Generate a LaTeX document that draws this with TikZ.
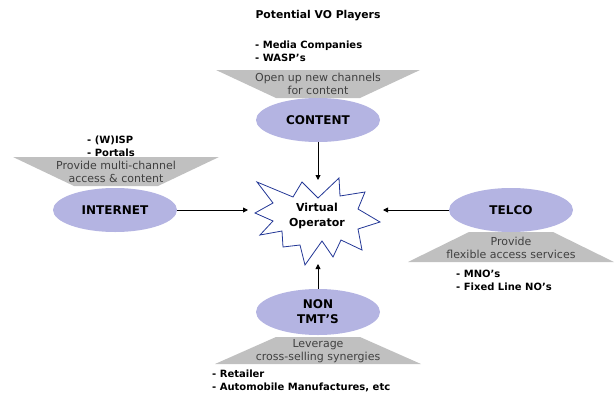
\documentclass[tikz,border=0pt]{standalone}
\usepackage{fontspec}
\setmainfont{DejaVu Sans}
\usetikzlibrary{arrows.meta,shapes.geometric}
\definecolor{lav}{RGB}{180,180,226}
\definecolor{trap}{RGB}{192,192,192}
\definecolor{traptext}{RGB}{64,64,64}
\definecolor{starblue}{RGB}{35,55,150}
\begin{document}
\begin{tikzpicture}[x=1pt,y=-1pt,
  player/.style={ellipse, fill=lav, minimum width=124pt, minimum height=44pt, inner sep=0pt,
    font=\bfseries\fontsize{12}{15}\selectfont, align=center},
  band/.style={fill=trap},
  bandtext/.style={font=\fontsize{11}{12.5}\selectfont, text=traptext, align=center, inner sep=0pt},
  bullets/.style={font=\bfseries\fontsize{10}{13}\selectfont, align=left, anchor=west, inner sep=0pt},
  conn/.style={-{Triangle[length=5pt,width=5pt]}, line width=0.9pt}]
\useasboundingbox (0,0) rectangle (616,394);

% title
\node[font=\bfseries\fontsize{10.8}{12}\selectfont] (title) at (318,16) {Potential VO Players};

% bands
\path[band] (216,70) -- (420,70) -- (360,98) -- (276,98) -- cycle;
\path[band] (13,157) -- (219,157) -- (158,186) -- (74,186) -- cycle;
\path[band] (469,232) -- (553,232) -- (614,262) -- (408,262) -- cycle;
\path[band] (276,337) -- (360,337) -- (421,364) -- (215,364) -- cycle;

\node[bandtext] (bcontent) at (318,84) {Open up new channels\\for content};
\node[bandtext] (binternet) at (116,172) {Provide multi-channel\\access \& content};
\node[bandtext] (btelco) at (511,248) {Provide\\flexible access services};
\node[bandtext] (bnon) at (318,351) {Leverage\\cross-selling synergies};

% bullets
\node[bullets] (lcontent) at (255,51) {- Media Companies\\- WASP's};
\node[bullets] (linternet) at (87,146) {- (W)ISP\\- Portals};
\node[bullets] (ltelco) at (456,280) {- MNO's\\- Fixed Line NO's};
\node[bullets] (lnon) at (212,381) {- Retailer\\- Automobile Manufactures, etc};

% players
\node[player] (content) at (318,120) {CONTENT};
\node[player] (internet) at (115,210) {INTERNET};
\node[player] (telco) at (511,210) {TELCO};
\node[player, minimum height=46pt] (nontmt) at (318,312) {NON\\TMT'S};

% star
\draw[starblue, line width=0.8pt, line join=miter, fill=white]
  (257,182) -- (293,197) -- (302,182) -- (318,198) -- (339,178) -- (340,196) -- (365,192)
  -- (358,209) -- (380,222) -- (358,229) -- (362,250) -- (341,240) -- (333,257) -- (322,241)
  -- (305,265) -- (300,245) -- (283,247) -- (282,231) -- (260,235) -- (273,221) -- (255,213)
  -- (273,203) -- cycle;
\node[font=\bfseries\fontsize{11}{15}\selectfont, align=center] (vo) at (317,216) {Virtual\\Operator};

\coordinate (vtop) at (318,180);
\coordinate (vleft) at (248,210);
\coordinate (vright) at (383,210);
\coordinate (vbot) at (318,264);

\draw[conn] (content) -- (vtop);
\draw[conn] (internet) -- (vleft);
\draw[conn] (telco) -- (vright);
\draw[conn] (nontmt) -- (vbot);
\end{tikzpicture}
\end{document}
